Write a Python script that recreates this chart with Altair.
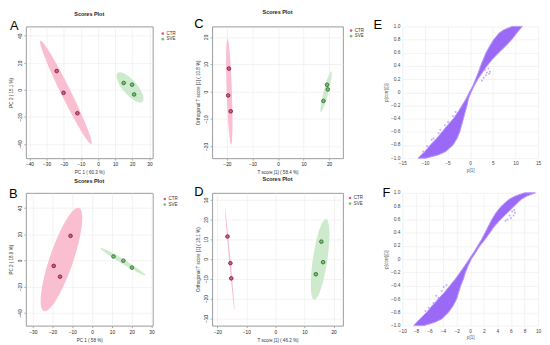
import altair as alt
import pandas as pd
import numpy as np

FONT = "Liberation Sans"

# ---------------- data ----------------
GROUPS = ["CTR", "SVE"]

A_CTR_X = [-24.1, -20.1, -12.0]
A_CTR_Y = [13.9, -2.2, -17.3]
A_SVE_X = [15.0, 19.9, 21.1]
A_SVE_Y = [5.1, 3.8, -3.4]

B_CTR_X = [-10.9, -19.4, -16.2]
B_CTR_Y = [18.7, -4.2, -12.4]
B_SVE_X = [10.8, 15.8, 20.1]
B_SVE_Y = [3.0, -0.2, -5.5]

C_CTR_X = [-19.2, -19.5, -18.5]
C_CTR_Y = [8.4, -1.4, -7.2]
C_SVE_X = [19.2, 19.5, 17.8]
C_SVE_Y = [2.5, 0.8, -3.4]

D_CTR_X = [-16.5, -15.5, -15.2]
D_CTR_Y = [11.4, -2.1, -9.8]
D_SVE_X = [15.8, 16.4, 13.9]
D_SVE_Y = [8.8, -1.6, -7.7]

# S-plot bands: for each p(corr) level, the left and right edge of the dense cloud
S_Y = [-1.0, -0.95, -0.9, -0.8, -0.7, -0.6, -0.5, -0.4, -0.3, -0.2, -0.1, 0.0,
       0.1, 0.2, 0.3, 0.4, 0.5, 0.6, 0.7, 0.8, 0.9, 0.95, 1.0]
E_LEFT = [-11.5, -10.8, -10.0, -8.8, -7.4, -6.2, -5.0, -3.7, -2.7, -1.8, -0.9, -0.2,
          0.6, 1.2, 1.8, 2.3, 2.9, 3.5, 4.3, 5.2, 6.4, 7.5, 9.3]
E_RIGHT = [-9.8, -7.0, -5.4, -3.8, -2.9, -2.3, -1.9, -1.5, -1.1, -0.7, -0.4, 0.2,
           0.9, 1.7, 2.7, 3.7, 4.9, 6.3, 7.8, 9.2, 10.3, 10.9, 11.5]
F_LEFT = [-8.3, -7.9, -7.4, -6.4, -5.6, -4.7, -3.8, -3.0, -2.2, -1.5, -0.8, -0.15,
          0.5, 1.1, 1.7, 2.2, 2.7, 3.2, 3.8, 4.6, 5.7, 6.6, 8.0]
F_RIGHT = [-6.8, -5.2, -4.2, -3.2, -2.5, -2.0, -1.7, -1.4, -1.0, -0.7, -0.3, 0.15,
           0.8, 1.4, 2.2, 2.9, 3.6, 4.5, 5.5, 6.5, 7.5, 8.3, 9.6]

# sparse points outside the dense clouds
E_OUT_X = [3.3, 3.7, 4.0, 4.4, 3.0, 3.5, 2.6, 4.2, -3.2, -3.8, -4.9, -5.6, -6.6,
           -7.0, -8.1, -8.5, -9.5, -10.4]
E_OUT_Y = [0.34, 0.30, 0.36, 0.31, 0.22, 0.26, 0.18, 0.28, -0.30, -0.36, -0.45,
           -0.50, -0.57, -0.62, -0.70, -0.72, -0.82, -0.90]
F_OUT_X = [5.5, 6.0, 6.4, 6.6, 6.2, 5.8, 6.5, 5.2, -3.5, -4.2, -4.7, -5.4, -6.1,
           -5.0, -3.9, -6.6]
F_OUT_Y = [0.60, 0.62, 0.66, 0.70, 0.72, 0.66, 0.74, 0.58, -0.39, -0.48, -0.58,
           -0.66, -0.73, -0.55, -0.42, -0.78]

PT_FILL = ["#dc5a88", "#74c274"]
PT_STROKE = ["#7a1a3c", "#2f6e2f"]
ELL_FILL = ["#f9bfd0", "#cdeacd"]
PURPLE = "#9a6af7"
PURPLE_LIGHT = "#b796fb"

K95 = np.sqrt(5.991)  # 95 % chi-square, 2 dof
LBL = 4.8


def ellipse_rows(xs, ys, group, n=160):
    x = np.asarray(xs, float)
    y = np.asarray(ys, float)
    cx, cy = x.mean(), y.mean()
    s = np.cov(x, y)
    sxx, syy, sxy = s[0, 0], s[1, 1], s[0, 1]
    xr = K95 * np.sqrt(sxx)
    t = np.linspace(0, np.pi, n)
    dx = -xr * np.cos(t)
    b = sxy / sxx
    cond = np.sqrt(max(syy - sxy ** 2 / sxx, 0.0))
    h = cond * np.sqrt(np.clip(K95 ** 2 - dx ** 2 / sxx, 0, None))
    return pd.DataFrame({"ex": cx + dx, "lo": cy + b * dx - h,
                         "hi": cy + b * dx + h, "eg": group})


def axis_common(**kw):
    base = dict(grid=True, gridColor="#ebebeb", gridWidth=0.6, domain=False,
                ticks=True, tickSize=2, tickColor="#777", tickWidth=0.6,
                labelFontSize=LBL, labelColor="#222", labelPadding=1.5,
                labelOverlap=False, labelFlush=False, labelBound=False,
                labelFont=FONT, titleFont=FONT, titleFontSize=4.6,
                titleFontWeight="normal", titleColor="#333", titlePadding=3.5)
    base.update(kw)
    return alt.Axis(**base)


def scores_panel(cx, cy, sx, sy, xdom, ydom, xticks, yticks, xtitle, ytitle,
                 letter, lx, ly, w, h, legx, legy):
    pts = pd.DataFrame({"x": cx + sx, "y": cy + sy,
                        "group": ["CTR"] * len(cx) + ["SVE"] * len(sx)})
    ell = pd.concat([ellipse_rows(cx, cy, "CTR"), ellipse_rows(sx, sy, "SVE")])
    xs = alt.Scale(domain=xdom, nice=False, zero=False)
    ys = alt.Scale(domain=ydom, nice=False, zero=False)
    xax = axis_common(values=xticks, title=xtitle)
    yax = axis_common(values=yticks, title=ytitle, labelAngle=270)

    ell_layer = alt.Chart(ell).mark_area(clip=True).encode(
        x=alt.X("ex:Q", scale=xs, axis=xax),
        y=alt.Y("lo:Q", scale=ys, axis=yax),
        y2="hi:Q",
        fill=alt.Fill("eg:N", scale=alt.Scale(range=ELL_FILL), legend=None),
    )
    pt_layer = alt.Chart(pts).mark_circle(size=13, strokeWidth=0.9, opacity=1).encode(
        x=alt.X("x:Q", axis=xax),
        y=alt.Y("y:Q", axis=yax),
        color=alt.Color("group:N", scale=alt.Scale(domain=GROUPS, range=PT_FILL),
                        legend=alt.Legend(title=None, orient="none", legendX=legx,
                                          legendY=legy, labelFontSize=4.5,
                                          labelFont=FONT, labelColor="#333",
                                          symbolSize=7, symbolType="circle",
                                          symbolStrokeWidth=0, rowPadding=0.6,
                                          labelOffset=1.5, padding=0)),
        stroke=alt.Stroke("group:N",
                          scale=alt.Scale(domain=GROUPS, range=PT_STROKE)),
    )
    let_layer = alt.Chart(pd.DataFrame({"t": [letter]})).mark_text(
        align="left", baseline="alphabetic", fontSize=13, font=FONT, color="black"
    ).encode(x=alt.value(lx), y=alt.value(ly), text="t:N")

    return alt.layer(ell_layer, pt_layer, let_layer).properties(
        width=w, height=h,
        title=alt.TitleParams("Scores Plot", fontSize=5.5, fontWeight="bold",
                              font=FONT, color="#222", offset=3, anchor="middle"),
        view=alt.ViewBackground(stroke="#9a9a9a", strokeWidth=1),
    )


def splot_panel(left, right, ox, oy, xdom, xticks, letter, lx, ly, w, h):
    band = pd.DataFrame({"y": S_Y, "l": left, "r": right})
    out = pd.DataFrame({"x": ox, "y": oy})
    xs = alt.Scale(domain=xdom, nice=False, zero=False)
    ys = alt.Scale(domain=[-1, 1], nice=False, zero=False)
    ax_kw = dict(ticks=False, labelColor="#444", titleColor="#555",
                 labelPadding=2.5, titlePadding=2)
    xax = axis_common(values=xticks, title="p[1]", **ax_kw)
    yax = axis_common(values=[round(-1 + 0.2 * i, 1) for i in range(11)],
                      title="p(corr)[1]",
                      labelExpr="datum.value == 0 ? '0' : format(datum.value, '.1f')",
                      **ax_kw)
    band_layer = alt.Chart(band).mark_area(
        orient="horizontal", color=PURPLE, stroke=PURPLE_LIGHT, strokeWidth=1.0
    ).encode(
        y=alt.Y("y:Q", scale=ys, axis=yax),
        x=alt.X("l:Q", scale=xs, axis=xax),
        x2="r:Q",
    )
    out_layer = alt.Chart(out).mark_circle(size=4, color=PURPLE_LIGHT, opacity=0.8).encode(
        x=alt.X("x:Q", axis=xax), y=alt.Y("y:Q", axis=yax))
    let_layer = alt.Chart(pd.DataFrame({"t": [letter]})).mark_text(
        align="left", baseline="alphabetic", fontSize=13, font=FONT, color="black"
    ).encode(x=alt.value(lx), y=alt.value(ly), text="t:N")
    return alt.layer(band_layer, out_layer, let_layer).properties(
        width=w, height=h,
        view=alt.ViewBackground(stroke="transparent"),
    )


W1, W2, W3 = 128, 132, 137
H1, H2 = 133, 134

A = scores_panel(A_CTR_X, A_CTR_Y, A_SVE_X, A_SVE_Y, [-42.1, 31.9], [-50.5, 46.9],
                 [-40, -30, -20, -10, 0, 10, 20, 30], [-40, -20, 0, 20, 40],
                 "PC 1 ( 60.3 %)", "PC 2 ( 15.1 %)", "A", -16, 4, W1, H1, W1 + 8, 5)
C = scores_panel(C_CTR_X, C_CTR_Y, C_SVE_X, C_SVE_Y, [-25.8, 25.4], [-24.3, 23.8],
                 [-20, -10, 0, 10, 20], [-20, -10, 0, 10, 20],
                 "T score [1] ( 58.4 %)", "Orthogonal T score [1] ( 10.8 %)",
                 "C", -18, 2, W2, H1, W2 + 6, 2)
E = splot_panel(E_LEFT, E_RIGHT, E_OUT_X, E_OUT_Y, [-15, 15],
                [-15, -10, -5, 0, 5, 10, 15], "E", -29, 3, W3, H1)
B = scores_panel(B_CTR_X, B_CTR_Y, B_SVE_X, B_SVE_Y, [-33.5, 30.6], [-49.7, 51.5],
                 [-30, -20, -10, 0, 10, 20, 30], [-40, -20, 0, 20, 40],
                 "PC 1 ( 58 %)", "PC 2 ( 18.9 %)", "B", -17, 5, W1, H2, W1 + 10, 4)
D = scores_panel(D_CTR_X, D_CTR_Y, D_SVE_X, D_SVE_Y, [-21.8, 23.2], [-33.7, 33.5],
                 [-20, -10, 0, 10, 20], [-30, -20, -10, 0, 10, 20, 30],
                 "T score [1] ( 46.2 %)", "Orthogonal T score [1] ( 18.1 %)",
                 "D", -18, 3, W2, H2, W2 + 5, 3)
F = splot_panel(F_LEFT, F_RIGHT, F_OUT_X, F_OUT_Y, [-10, 10],
                [-10, -8, -6, -4, -2, 0, 2, 4, 6, 8, 10], "F", -20, 4, W3, H2)

chart = alt.concat(
    A, C, E, B, D, F, columns=3, bounds="flush",
    spacing={"row": 35, "column": 60},
).resolve_scale(
    color="independent", fill="independent", stroke="independent",
    x="independent", y="independent",
).resolve_legend(
    color="independent", fill="independent", stroke="independent"
).properties(
    padding=0, background="white"
).configure_view(
    strokeWidth=1
).configure_axis(
    labelOverlap=False, labelFlush=False, labelBound=False
)

chart.save("out.html", embed_options={"renderer": "svg", "actions": False})
